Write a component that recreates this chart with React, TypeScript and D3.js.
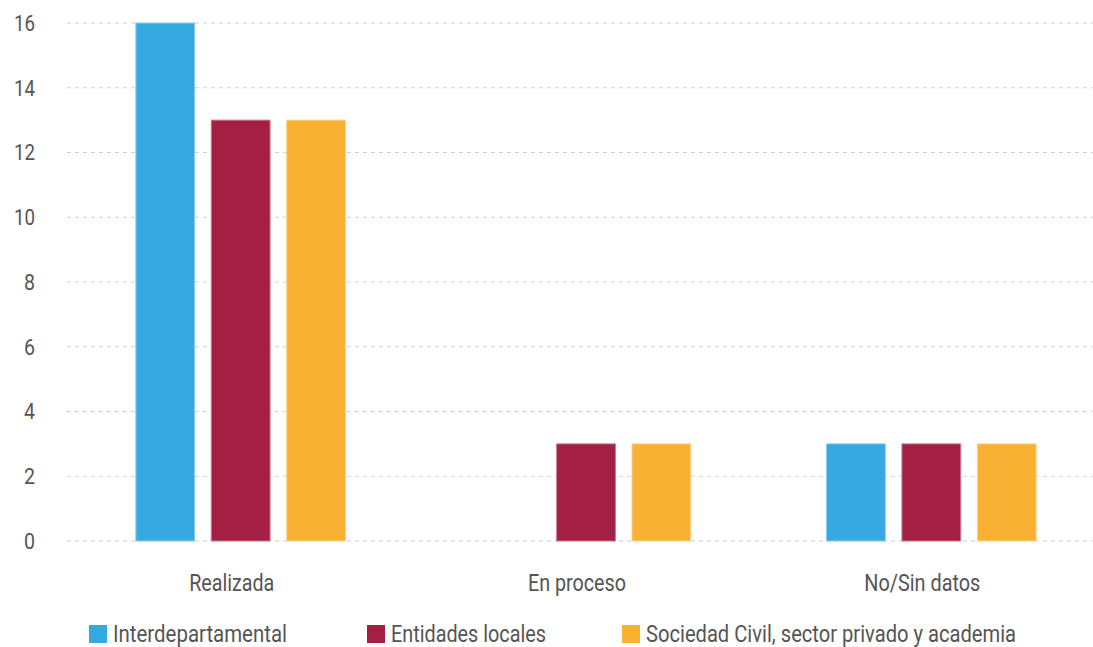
import { useEffect, useRef } from "react";
import * as d3 from "d3";

const categories = ["Realizada", "En proceso", "No/Sin datos"];
const seriesNames = ["Interdepartamental", "Entidades locales", "Sociedad Civil, sector privado y academia"];
const interdepartamental = [16, 0, 3];
const entidadesLocales = [13, 3, 3];
const sociedadCivil = [13, 3, 3];
const yTicks = [0, 2, 4, 6, 8, 10, 12, 14, 16];
const colors = ["#36a9e0", "#a32044", "#f8b133"];
const strokes = ["#8ccdf0", "#c97a8f", "#fcd592"];

const FONT = "Roboto, 'DejaVu Sans', sans-serif";
// approximate condensed widths measured from the original
const catWidths = [85, 98, 116];
const legendWidths = [174, 155, 370];

export default function App() {
    const svgRef = useRef<SVGSVGElement>(null);

    useEffect(() => {
        const svg = d3.select(svgRef.current);
        svg.selectAll("*").remove();

        const values = [interdepartamental, entidadesLocales, sociedadCivil];
        const data = categories.map((c, i) => ({
            cat: c,
            vals: seriesNames.map((s, j) => ({ key: s, idx: j, v: values[j][i] })),
        }));

        const x0 = d3.scaleBand().domain(categories).range([68, 1104]).padding(0);
        const x1 = d3.scaleBand()
            .domain(seriesNames)
            .range([0, x0.bandwidth()])
            .paddingInner(0.22)
            .paddingOuter(0.9);
        const y = d3.scaleLinear().domain([0, 16]).range([541, 23]);

        // gridlines
        svg.append("g")
            .selectAll("line")
            .data(yTicks)
            .enter()
            .append("line")
            .attr("x1", 67)
            .attr("x2", 1093)
            .attr("y1", d => y(d))
            .attr("y2", d => y(d))
            .attr("stroke", "#cfcfcf")
            .attr("stroke-width", 1.2)
            .attr("stroke-dasharray", "4,4");

        // y labels
        svg.append("g")
            .selectAll("text")
            .data(yTicks)
            .enter()
            .append("text")
            .attr("x", 35)
            .attr("y", d => y(d))
            .attr("dy", "0.36em")
            .attr("text-anchor", "end")
            .attr("textLength", d => (d >= 10 ? 21 : 11))
            .attr("lengthAdjust", "spacingAndGlyphs")
            .style("font-family", FONT)
            .style("font-size", "22px")
            .style("fill", "#555")
            .text(d => d);

        // bars
        const groups = svg.append("g")
            .selectAll("g")
            .data(data)
            .enter()
            .append("g")
            .attr("transform", d => `translate(${x0(d.cat)},0)`);

        groups.selectAll("rect")
            .data(d => d.vals.filter(v => v.v > 0))
            .enter()
            .append("rect")
            .attr("x", d => x1(d.key) || 0)
            .attr("width", x1.bandwidth())
            .attr("y", d => y(d.v))
            .attr("height", d => y(0) - y(d.v))
            .attr("fill", d => colors[d.idx])
            .attr("stroke", d => strokes[d.idx])
            .attr("stroke-width", 1);

        // category labels
        svg.append("g")
            .selectAll("text")
            .data(categories)
            .enter()
            .append("text")
            .attr("x", d => (x0(d) || 0) + x0.bandwidth() / 2 - 9)
            .attr("y", 591)
            .attr("text-anchor", "middle")
            .attr("textLength", (d, i) => catWidths[i])
            .attr("lengthAdjust", "spacingAndGlyphs")
            .style("font-family", FONT)
            .style("font-size", "24px")
            .style("fill", "#555")
            .text(d => d);

        // legend
        const legendX = [89, 367, 622];
        const legend = svg.append("g")
            .selectAll("g")
            .data(seriesNames)
            .enter()
            .append("g")
            .attr("transform", (d, i) => `translate(${legendX[i]},625)`);

        legend.append("rect")
            .attr("width", 18)
            .attr("height", 18)
            .attr("fill", (d, i) => colors[i]);

        legend.append("text")
            .attr("x", 24)
            .attr("y", 17)
            .attr("textLength", (d, i) => legendWidths[i])
            .attr("lengthAdjust", "spacingAndGlyphs")
            .style("font-family", FONT)
            .style("font-size", "23px")
            .style("fill", "#555")
            .text(d => d);
    }, []);

    return (
        <div style={{ position: "absolute", left: 0, top: 0 }}>
            <svg ref={svgRef} width={1093} height={647} style={{ display: "block", background: "#fff" }} />
        </div>
    );
}
